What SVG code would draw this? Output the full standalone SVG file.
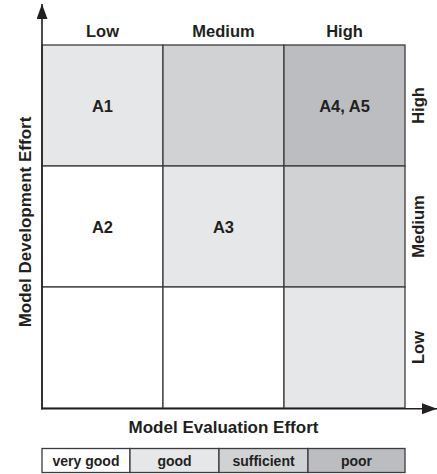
<svg xmlns="http://www.w3.org/2000/svg" width="437" height="474" viewBox="0 0 437 474">
  <style>
    .lbl { font-family: "Liberation Sans", Arial, Helvetica, sans-serif; font-weight: bold; fill: #231f20; text-anchor: middle; }
    .col { font-size: 16.5px; }
    .cell-text { font-size: 16.5px; }
    .axis-title { font-size: 17px; }
    .legend-text { font-size: 14px; }
    .cell { stroke: #3c3c3c; stroke-width: 1.3; }
    .vg { fill: #ffffff; }
    .good { fill: #e6e7e8; }
    .suff { fill: #d1d2d4; }
    .poor { fill: #bcbdc0; }
    .axis { stroke: #231f20; stroke-width: 1.6; fill: none; }
  </style>
  <defs>
    <marker id="arrow" viewBox="0 0 15 11" refX="15" refY="5.5" markerWidth="15" markerHeight="11" markerUnits="userSpaceOnUse" orient="auto">
      <path d="M0,0 L15,5.5 L0,11 z" fill="#231f20"/>
    </marker>
  </defs>
  <rect width="437" height="474" fill="#ffffff"/>

  <!-- column headings (evaluation effort) -->
  <text class="lbl col" x="102.5" y="36.5">Low</text>
  <text class="lbl col" x="223.5" y="36.5">Medium</text>
  <text class="lbl col" x="344.5" y="36.5">High</text>

  <!-- row headings (development effort) -->
  <text class="lbl col" transform="translate(423.5,105.5) rotate(-90)">High</text>
  <text class="lbl col" transform="translate(423.5,226.5) rotate(-90)">Medium</text>
  <text class="lbl col" transform="translate(423.5,347.5) rotate(-90)">Low</text>

  <!-- matrix cells -->
  <g id="cell-high-low"><rect class="cell good" x="42" y="45" width="121" height="121"/><text class="lbl cell-text" x="102.5" y="111.5">A1</text></g>
  <g id="cell-high-medium"><rect class="cell suff" x="163" y="45" width="121" height="121"/></g>
  <g id="cell-high-high"><rect class="cell poor" x="284" y="45" width="121" height="121"/><text class="lbl cell-text" x="344.5" y="111.5">A4, A5</text></g>
  <g id="cell-medium-low"><rect class="cell vg" x="42" y="166" width="121" height="121"/><text class="lbl cell-text" x="102.5" y="232.5">A2</text></g>
  <g id="cell-medium-medium"><rect class="cell good" x="163" y="166" width="121" height="121"/><text class="lbl cell-text" x="223.5" y="232.5">A3</text></g>
  <g id="cell-medium-high"><rect class="cell suff" x="284" y="166" width="121" height="121"/></g>
  <g id="cell-low-low"><rect class="cell vg" x="42" y="287" width="121" height="121"/></g>
  <g id="cell-low-medium"><rect class="cell vg" x="163" y="287" width="121" height="121"/></g>
  <g id="cell-low-high"><rect class="cell good" x="284" y="287" width="121" height="121"/></g>

  <!-- axes -->
  <g id="axes">
    <line class="axis" x1="42" y1="409.5" x2="42" y2="4" marker-end="url(#arrow)"/>
    <line class="axis" x1="41.2" y1="408.7" x2="437" y2="408.7" marker-end="url(#arrow)"/>
  </g>

  <!-- axis titles -->
  <text class="lbl axis-title" x="223.5" y="432.5">Model Evaluation Effort</text>
  <text class="lbl axis-title" transform="translate(31,222) rotate(-90)">Model Development Effort</text>

  <!-- legend -->
  <g id="legend">
    <rect class="cell vg" x="42" y="448.5" width="88" height="24"/>
    <rect class="cell good" x="130" y="448.5" width="89" height="24"/>
    <rect class="cell suff" x="219" y="448.5" width="89" height="24"/>
    <rect class="cell poor" x="308" y="448.5" width="97" height="24"/>
    <text class="lbl legend-text" x="86" y="465.5">very good</text>
    <text class="lbl legend-text" x="174.5" y="465.5">good</text>
    <text class="lbl legend-text" x="263.5" y="465.5">sufficient</text>
    <text class="lbl legend-text" x="356.5" y="465.5">poor</text>
  </g>
</svg>
